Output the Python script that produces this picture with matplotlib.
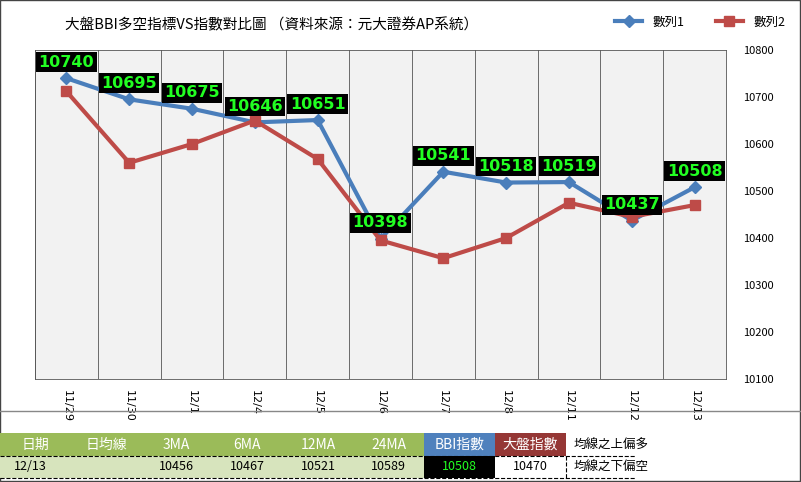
import matplotlib.pyplot as plt
from matplotlib import font_manager
from matplotlib.patches import Rectangle

cjk = [f.name for f in font_manager.fontManager.ttflist if "CJK" in f.name]
pref = [n for n in cjk if "TC" in n] or cjk
plt.rcParams["font.family"] = (pref[:1] if pref else []) + ["DejaVu Sans"]

dates = ["11/29", "11/30", "12/1", "12/4", "12/5", "12/6", "12/7", "12/8", "12/11", "12/12", "12/13"]
bbi = [10740, 10695, 10675, 10646, 10651, 10398, 10541, 10518, 10519, 10437, 10508]
index = [10712, 10560, 10600, 10650, 10568, 10395, 10357, 10400, 10475, 10445, 10470]
yticks = [10100, 10200, 10300, 10400, 10500, 10600, 10700, 10800]

table_head = ["日期", "日均線", "3MA", "6MA", "12MA", "24MA", "BBI指數", "大盤指數", "均線之上偏多"]
table_row = ["12/13", "", "10456", "10467", "10521", "10589", "10508", "10470", "均線之下偏空"]

W, H = 801, 482
fig = plt.figure(figsize=(W / 100, H / 100), dpi=100)

ax = fig.add_axes([35 / W, 1 - 379 / H, (726 - 35) / W, (379 - 50) / H])
n = len(dates)
x = list(range(n))
ax.set_facecolor("#f2f2f2")
ax.set_xlim(-0.5, n - 0.5)
ax.set_ylim(10100, 10800)
for i in range(n + 1):
    ax.axvline(i - 0.5, color="#555555", lw=0.6)
for s in ax.spines.values():
    s.set_color("#555555")
    s.set_linewidth(0.6)

l1, = ax.plot(x, bbi, color="#4a7ebb", lw=3, marker="D", ms=6, label="數列1", zorder=3)
l2, = ax.plot(x, index, color="#be4b48", lw=3, marker="s", ms=7, label="數列2", zorder=3)
for xi, v in zip(x, bbi):
    ax.text(xi, v + 18, str(v), ha="center", va="bottom", color="#22ff22", fontsize=11.5,
            fontweight="bold", family="DejaVu Sans", zorder=5, clip_on=False,
            bbox=dict(boxstyle="square,pad=0.15", fc="black", ec="none"))

ax.yaxis.tick_right()
ax.set_yticks(yticks)
ax.tick_params(axis="y", length=0, labelsize=8, pad=12)
ax.set_xticks(x)
ax.set_xticklabels(dates, rotation=-90, fontsize=8, family="DejaVu Sans")
ax.tick_params(axis="x", length=0, pad=8)

fig.text(65 / W, 1 - 25 / H, "大盤BBI多空指標VS指數對比圖 （資料來源：元大證券AP系統）", fontsize=10.5, va="center")
fig.legend(handles=[l1, l2], loc="center", bbox_to_anchor=(700 / W, 1 - 22 / H), ncol=2,
           frameon=False, fontsize=9, handlelength=2.2, columnspacing=2.5)

# bottom table
tax = fig.add_axes([0, 0, 1, 1])
tax.set_xlim(0, W)
tax.set_ylim(H, 0)
tax.axis("off")
tax.plot([0, W], [411, 411], color="#888888", lw=1)
tax.add_patch(Rectangle((0, 0), W - 1, H - 1, fill=False, ec="#444444", lw=1))
cw = 70.7
head_bg = ["#9bbb59"] * 6 + ["#4f81bd", "#953735", "white"]
row_bg = ["#d7e4bd"] * 6 + ["black", "white", "white"]
for i in range(9):
    x0 = i * cw
    tax.add_patch(Rectangle((x0, 433), cw, 23, fc=head_bg[i], ec="none"))
    tax.add_patch(Rectangle((x0, 456), cw, 22, fc=row_bg[i], ec="none"))
    hc = "black" if i == 8 else "white"
    tax.text(x0 + (8 if i == 8 else cw / 2), 445, table_head[i], ha="left" if i == 8 else "center",
             va="center", color=hc, fontsize=10 if i < 8 else 9)
    rc = "#22ff22" if i == 6 else "black"
    ha = "center"
    px = x0 + cw / 2
    if i == 0:
        ha, px = "left", 14
    if i == 8:
        ha, px = "left", x0 + 8
    tax.text(px, 467, table_row[i], ha=ha, va="center", color=rc, fontsize=9)
tax.plot([0, 9 * cw], [478, 478], color="black", lw=0.8, ls="--")
tax.plot([0, 9 * cw], [456, 456], color="black", lw=0.8, ls="--")
tax.plot([8 * cw, 8 * cw], [456, 478], color="black", lw=0.8, ls="--")

fig.savefig("out.png", dpi=100)
